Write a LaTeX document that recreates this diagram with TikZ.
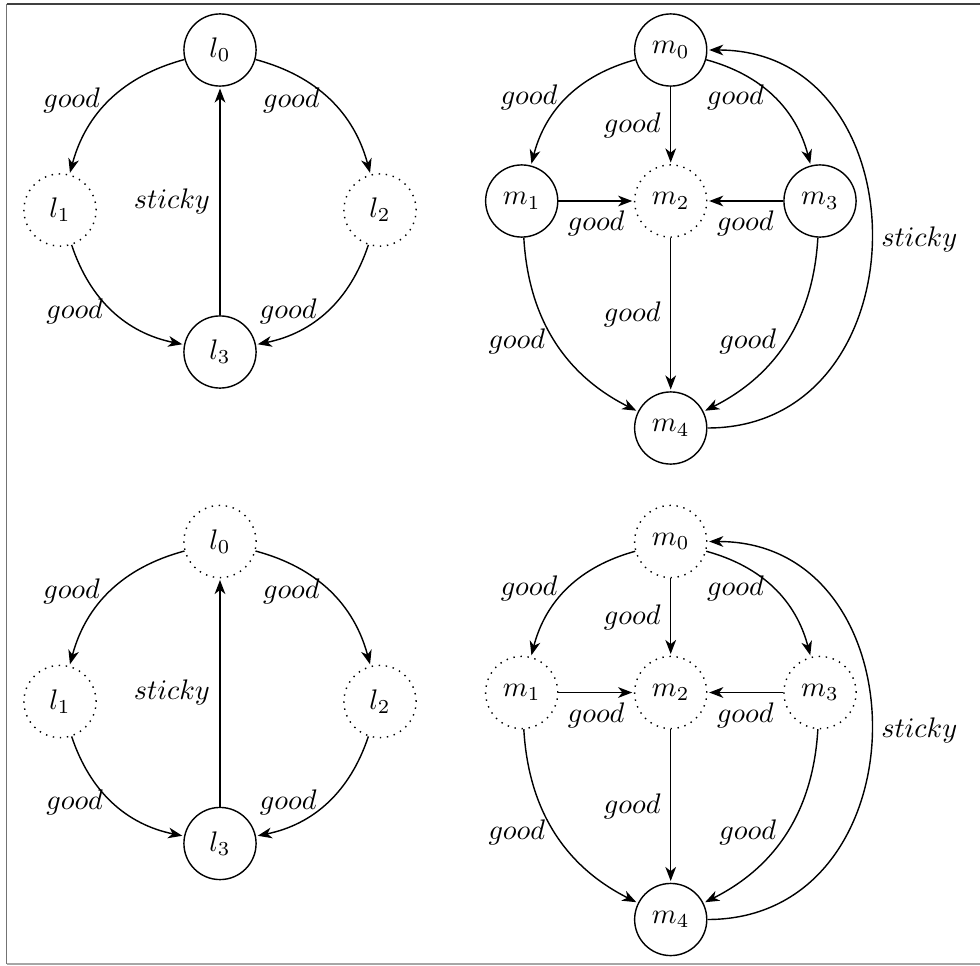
\documentclass[tikz,border=0pt]{standalone}
\usetikzlibrary{arrows.meta}
\tikzset{
  st/.style={circle, draw, minimum size=25.5pt, inner sep=0pt, line width=0.5pt},
  stdot/.style={st, dotted},
  arr/.style={-{Stealth[length=5pt,width=3.8pt,inset=1.5pt]}, line width=0.5pt, shorten >=0.6pt},
  frameline/.style={line width=0.6pt}
}
% l-graph: #1 prefix, #2..#5 styles of nodes 0..3
\newcommand\lgraphdraw[5]{%
  \node[#2] (#10) at (220,-50) {$l_0$};
  \node[#3] (#11) at (60,-210) {$l_1$};
  \node[#4] (#12) at (380,-210) {$l_2$};
  \node[#5] (#13) at (220,-352) {$l_3$};
  \draw[arr] (#10) to[bend right=30] node[midway,left] {$good$} (#11);
  \draw[arr] (#10) to[bend left=30] node[midway,left] {$good$} (#12);
  \draw[arr] (#11) to[bend right=30] node[midway,left] {$good$} (#13);
  \draw[arr] (#12) to[bend left=30] node[midway,left] {$good$} (#13);
  \draw[arr] (#13) -- node[midway,left] {$sticky$} (#10);
}
% m-graph: #1 prefix, #2..#6 styles of nodes 0..4
\newcommand\mgraphdraw[6]{%
  \node[#2] (#10) at (670.7,-50) {$m_0$};
  \node[#3] (#11) at (521.7,-201) {$m_1$};
  \node[#4] (#12) at (670.7,-201) {$m_2$};
  \node[#5] (#13) at (820,-201) {$m_3$};
  \node[#6] (#14) at (670.7,-428) {$m_4$};
  \draw[arr] (#10) to[bend right=30] node[midway,left] {$good$} (#11);
  \draw[arr] (#10) -- node[midway,left] {$good$} (#12);
  \draw[arr] (#10) to[bend left=30] node[midway,left] {$good$} (#13);
  \draw[arr] (#11) -- node[midway,below] {$good$} (#12);
  \draw[arr] (#13) -- node[midway,below] {$good$} (#12);
  \draw[arr] (#11) to[bend right=30] node[midway,left] {$good$} (#14);
  \draw[arr] (#12) -- node[midway,left] {$good$} (#14);
  \draw[arr] (#13) to[bend left=30] node[midway,left] {$good$} (#14);
  \draw[arr] (#14) to[out=0,in=0,looseness=1.48] node[midway,right] {$sticky$} (#10);
}
\begin{document}
\begin{tikzpicture}[x=0.3534pt,y=0.3534pt]
  \useasboundingbox (0,0) rectangle (980,-965);
  % frame
  \draw[frameline, black!75] (6.5,-4) -- (980,-4);
  \draw[frameline, black!55] (6.5,-4) -- (6.5,-963.8);
  \draw[frameline, black!35] (6.5,-963.8) -- (980,-963.8);
  % top row
  \lgraphdraw{a}{st}{stdot}{stdot}{st}
  \mgraphdraw{b}{st}{st}{stdot}{st}{st}
  % bottom row
  \begin{scope}[shift={(0,-491.5)}]
    \lgraphdraw{c}{stdot}{stdot}{stdot}{st}
    \mgraphdraw{d}{stdot}{stdot}{stdot}{stdot}{st}
  \end{scope}
\end{tikzpicture}
\end{document}
